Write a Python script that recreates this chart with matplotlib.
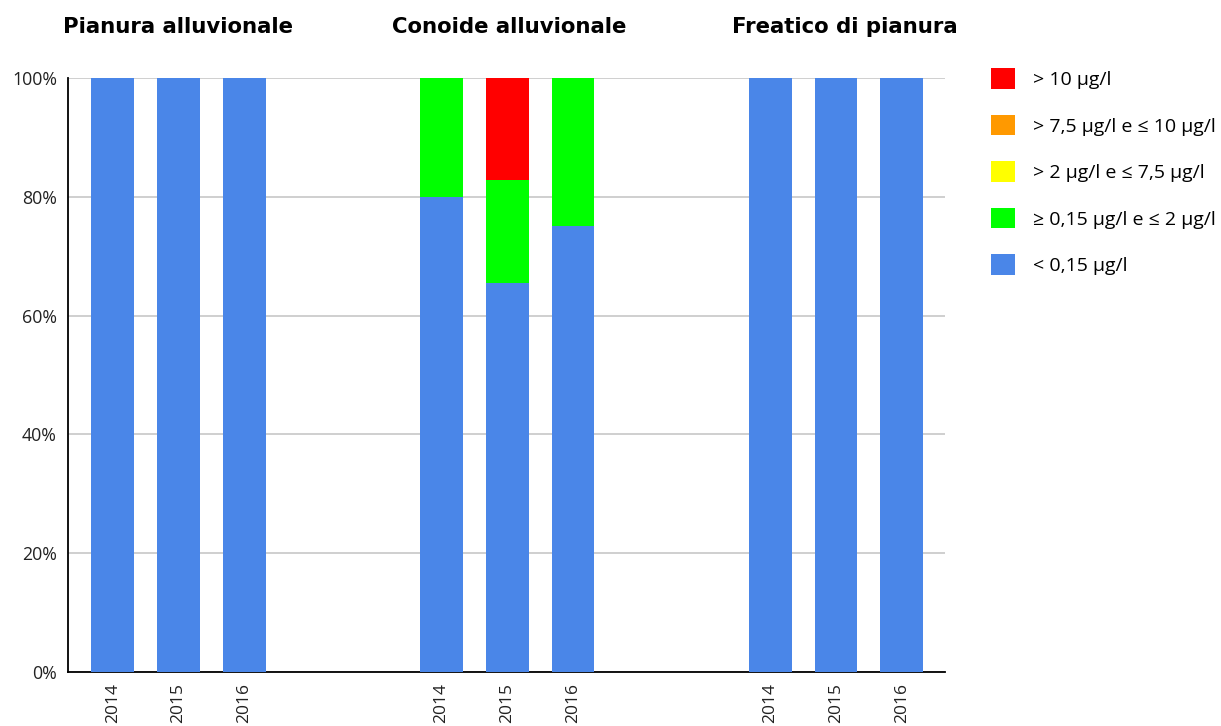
import numpy as np
import matplotlib.pyplot as plt
from matplotlib.patches import Patch

groups = ["Pianura alluvionale", "Conoide alluvionale", "Freatico di pianura"]
years = ["2014", "2015", "2016"]

# percent of stations per class, per group/year (9 bars)
below_015 = [100, 100, 100, 80, 65.5, 75, 100, 100, 100]
from_015_to_2 = [0, 0, 0, 20, 17.25, 25, 0, 0, 0]
from_2_to_75 = [0, 0, 0, 0, 0, 0, 0, 0, 0]
from_75_to_10 = [0, 0, 0, 0, 0, 0, 0, 0, 0]
above_10 = [0, 0, 0, 0, 17.25, 0, 0, 0, 0]

series = [below_015, from_015_to_2, from_2_to_75, from_75_to_10, above_10]
labels = ["< 0,15 µg/l", "≥ 0,15 µg/l e ≤ 2 µg/l", "> 2 µg/l e ≤ 7,5 µg/l",
          "> 7,5 µg/l e ≤ 10 µg/l", "> 10 µg/l"]
colors = ["#4a86e8", "#00ff00", "#ffff00", "#ff9900", "#ff0000"]

plt.rcParams['font.family'] = ['Open Sans', 'DejaVu Sans']

fig = plt.figure(figsize=(12.21, 7.26), dpi=100)
ax = fig.add_axes([0.0557, 0.0744, 0.7183, 0.8182])

x = np.array([0, 1, 2, 5, 6, 7, 10, 11, 12])
bottom = np.zeros(len(x))
for vals, col in zip(series, colors):
    ax.bar(x, vals, 0.65, bottom=bottom, color=col, zorder=3)
    bottom += np.array(vals)

ax.set_xlim(-0.68, 12.66)
ax.set_ylim(0, 100)
ax.set_yticks(np.arange(0, 101, 20))
ax.set_yticklabels([f"{v}%" for v in range(0, 101, 20)], fontsize=12.8, color="#222222")
ax.set_xticks(x)
ax.set_xticklabels(years * 3, rotation=90, fontsize=12.5, color="#222222")
ax.tick_params(axis='both', length=0, pad=8)
ax.grid(axis='y', color='#cccccc', linewidth=1.3, zorder=0)
for s in ['top', 'right']:
    ax.spines[s].set_visible(False)
ax.spines['left'].set_linewidth(1.3)
ax.spines['bottom'].set_linewidth(1.3)

title_shift = [0, 0.03, 0.13]
for i, g in enumerate(groups):
    ax.text(x[i * 3 + 1] + title_shift[i], 108.6, g, ha='center', va='center',
            fontsize=15.3, fontweight='bold', family='DejaVu Sans')

handles = [Patch(facecolor=c, label=l) for c, l in zip(colors, labels)][::-1]
fig.legend(handles=handles, loc='upper left', bbox_to_anchor=(0.797, 0.93),
           frameon=False, fontsize=14, handlelength=1.25, handleheight=1.25,
           labelspacing=1.32, handletextpad=0.95)

fig.savefig("out.png", dpi=100)
